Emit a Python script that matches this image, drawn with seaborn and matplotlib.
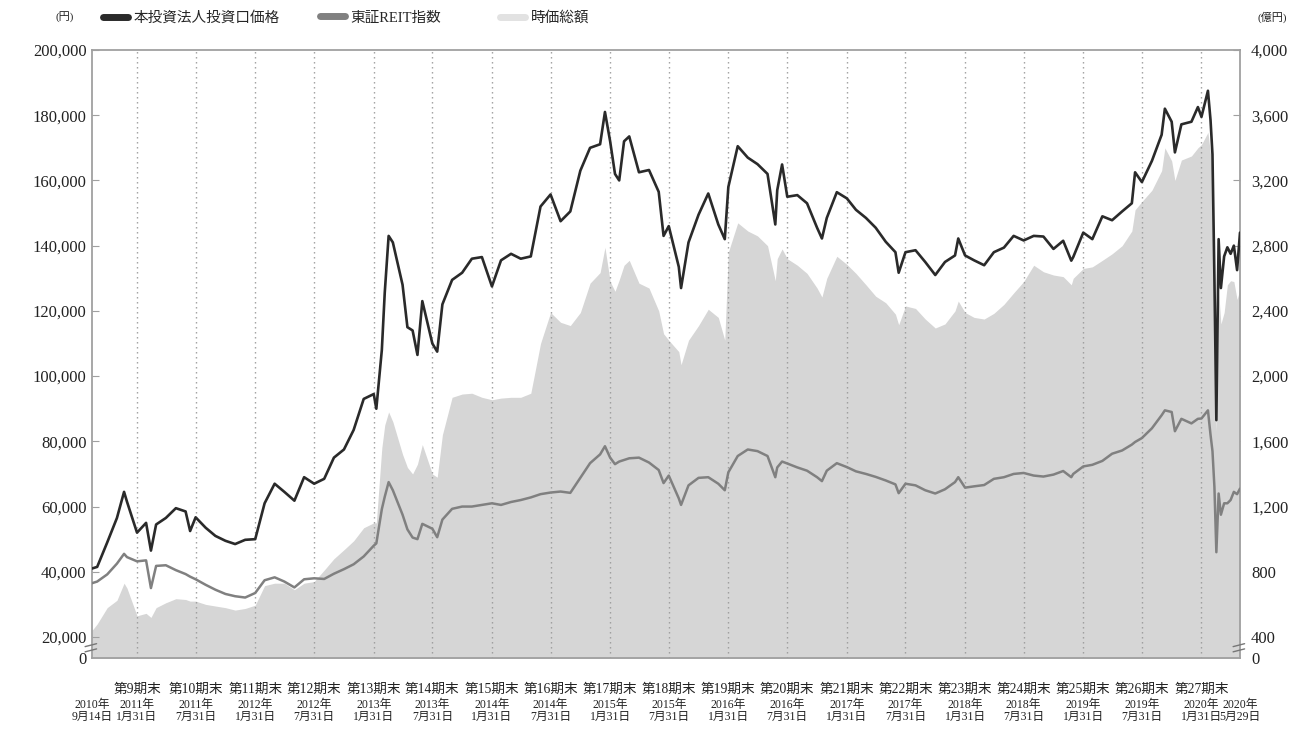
import matplotlib
matplotlib.use("Agg")
import matplotlib.pyplot as plt
import matplotlib.dates as mdates
import matplotlib.transforms as mtransforms
from matplotlib.lines import Line2D
import seaborn as sns
import pandas as pd

# values (price and REIT in yen-axis units, market cap in 億円)
dates = [
    "2010-09-14", "2010-09-30", "2010-10-31", "2010-11-30", "2010-12-22", "2010-12-31",
    "2011-01-31", "2011-02-28", "2011-03-15", "2011-03-31", "2011-04-30", "2011-05-31",
    "2011-06-30", "2011-07-14", "2011-07-31", "2011-08-31", "2011-09-30", "2011-10-31",
    "2011-11-30", "2011-12-31", "2012-01-31", "2012-02-29", "2012-03-31", "2012-04-30",
    "2012-05-31", "2012-06-30", "2012-07-31", "2012-08-31", "2012-09-30", "2012-10-31",
    "2012-11-30", "2012-12-31", "2013-01-31", "2013-02-08", "2013-02-25", "2013-03-06",
    "2013-03-18", "2013-03-31", "2013-04-30", "2013-05-15", "2013-05-31", "2013-06-15",
    "2013-06-30", "2013-07-31", "2013-08-15", "2013-08-31", "2013-09-30", "2013-10-31",
    "2013-11-30", "2013-12-31", "2014-01-31", "2014-02-28", "2014-03-31", "2014-04-30",
    "2014-05-31", "2014-06-30", "2014-07-31", "2014-08-31", "2014-09-30", "2014-10-31",
    "2014-11-30", "2014-12-31", "2015-01-15", "2015-01-31", "2015-02-15", "2015-02-28",
    "2015-03-15", "2015-03-31", "2015-04-30", "2015-05-31", "2015-06-30", "2015-07-15",
    "2015-07-31", "2015-08-31", "2015-09-07", "2015-09-30", "2015-10-31", "2015-11-30",
    "2015-12-31", "2016-01-20", "2016-01-31", "2016-02-29", "2016-03-31", "2016-04-30",
    "2016-05-31", "2016-06-24", "2016-06-30", "2016-07-15", "2016-07-31", "2016-08-31",
    "2016-09-30", "2016-10-31", "2016-11-15", "2016-11-30", "2016-12-31", "2017-01-31",
    "2017-02-28", "2017-03-31", "2017-04-30", "2017-05-31", "2017-06-30", "2017-07-10",
    "2017-07-31", "2017-08-31", "2017-09-30", "2017-10-31", "2017-11-30", "2017-12-31",
    "2018-01-10", "2018-01-31", "2018-02-28", "2018-03-31", "2018-04-30", "2018-05-31",
    "2018-06-30", "2018-07-31", "2018-08-31", "2018-09-30", "2018-10-31", "2018-11-30",
    "2018-12-25", "2018-12-31", "2019-01-31", "2019-02-28", "2019-03-31", "2019-04-30",
    "2019-05-31", "2019-06-30", "2019-07-10", "2019-07-31", "2019-08-31", "2019-09-30",
    "2019-10-10", "2019-10-31", "2019-11-10", "2019-11-30", "2019-12-31", "2020-01-20",
    "2020-01-31", "2020-02-20", "2020-02-28", "2020-03-05", "2020-03-11", "2020-03-17",
    "2020-03-24", "2020-03-31", "2020-04-10", "2020-04-20", "2020-04-30", "2020-05-10",
    "2020-05-20", "2020-05-29",
]

unit_price = [
    41000, 41500, 49000, 56500, 64500, 61500,
    52000, 55000, 46500, 54500, 56500, 59500,
    58500, 52500, 56700, 53500, 51000, 49500,
    48500, 49800, 50000, 61000, 67000, 64500,
    61800, 69000, 67000, 68500, 75000, 77500,
    83500, 93000, 94500, 90000, 108000, 125600,
    143000, 141000, 128000, 115000, 114000, 106500,
    123000, 110000, 107500, 122000, 129500, 131700,
    136000, 136500, 127500, 135500, 137500, 136000,
    136700, 152000, 155700, 147500, 150500, 163000,
    170000, 171100, 181000, 172000, 162000, 160000,
    172000, 173500, 162500, 163200, 156500, 143000,
    146000, 133500, 127000, 141000, 149500, 156000,
    146500, 142000, 158000, 170500, 167000, 165000,
    162000, 146500, 157000, 164900, 155000, 155500,
    153000, 145500, 142200, 148500, 156400, 154500,
    151000, 148500, 145500, 141200, 138000, 131700,
    138000, 138600, 135000, 131000, 135000, 137000,
    142200, 137000, 135500, 134000, 138000, 139400,
    143000, 141600, 143000, 142800, 139000, 141500,
    135400, 136500, 144000, 142000, 149000, 147800,
    150500, 153000, 162500, 159500, 166000, 174000,
    182000, 178000, 168600, 177200, 178000, 182500,
    179500, 187500, 178500, 168000, 130000, 86500,
    142000, 127000, 136700, 139500, 137500, 140000,
    132500, 144000,
]

reit_rebased = [
    36500, 37000, 39200, 42500, 45500, 44500,
    43200, 43500, 35000, 41800, 42000, 40500,
    39300, 38500, 37700, 36000, 34500, 33200,
    32500, 32100, 33500, 37400, 38300, 37000,
    35200, 37700, 38000, 37800, 39400, 40800,
    42300, 44700, 48000, 48700, 59200, 63000,
    67500, 65000, 57500, 53000, 50500, 50000,
    54700, 53200, 50600, 56000, 59300, 60000,
    60000, 60500, 61000, 60500, 61400, 62000,
    62800, 63800, 64300, 64600, 64200, 68800,
    73300, 76000, 78500, 75000, 73000, 73800,
    74300, 74800, 75000, 73500, 71200, 67200,
    69500, 62500, 60500, 66500, 68800, 69000,
    67000, 65000, 70500, 75500, 77500, 77000,
    75500, 69000, 72000, 73800, 73200, 72000,
    71000, 69000, 67800, 71000, 73300, 72100,
    70800, 70000, 69100, 68000, 66800, 64100,
    67000, 66500, 65000, 64000, 65300, 67500,
    69000, 65800, 66200, 66600, 68500, 69000,
    70000, 70300, 69500, 69200, 69800, 70900,
    69000, 70000, 72300, 72800, 74000, 76200,
    77200, 79000, 79800, 81000, 84000, 88000,
    89500, 89000, 83100, 86900, 85500, 86900,
    87000, 89500, 82000, 77000, 66000, 46000,
    64000, 57500, 61000, 61000, 62000, 64500,
    63800, 65500,
]

market_cap = [
    440, 480, 580, 625, 730, 700,
    530, 545, 520, 580, 610, 635,
    630, 620, 620, 600, 590, 580,
    565, 575, 595, 715, 730, 730,
    690, 730, 740, 810, 880, 935,
    990, 1070, 1100, 1100, 1560, 1700,
    1780, 1720, 1520, 1440, 1400, 1460,
    1580, 1400, 1380, 1640, 1870, 1890,
    1895, 1870, 1855, 1865, 1870, 1870,
    1895, 2200, 2390, 2330, 2310, 2390,
    2570, 2635, 2790, 2580, 2520, 2590,
    2680, 2710, 2570, 2540, 2400, 2260,
    2220, 2150, 2070, 2220, 2310, 2410,
    2360, 2220, 2760, 2940, 2890, 2860,
    2800, 2585, 2720, 2780, 2720, 2680,
    2630, 2540, 2485, 2600, 2735, 2685,
    2630, 2560, 2490, 2450, 2380, 2315,
    2430, 2415, 2350, 2295, 2320, 2400,
    2460, 2390, 2360, 2350, 2385, 2440,
    2510, 2580, 2680, 2640, 2620, 2610,
    2560, 2600, 2660, 2670, 2710, 2750,
    2800, 2890, 3020, 3070, 3140, 3260,
    3400, 3320, 3200, 3325, 3350, 3400,
    3420, 3495, 3360, 3200, 2360, 1660,
    2520, 2320, 2390, 2560, 2585, 2580,
    2470, 2535,
]

period_labels = ["第%d期末" % n for n in range(9, 28)]
period_dates = [
    "2011-01-31", "2011-07-31", "2012-01-31", "2012-07-31", "2013-01-31",
    "2013-07-31", "2014-01-31", "2014-07-31", "2015-01-31", "2015-07-31",
    "2016-01-31", "2016-07-31", "2017-01-31", "2017-07-31", "2018-01-31",
    "2018-07-31", "2019-01-31", "2019-07-31", "2020-01-31",
]
date_label_dates = ["2010-09-14"] + period_dates + ["2020-05-29"]
date_labels = [
    "2010年\n9月14日", "2011年\n1月31日", "2011年\n7月31日", "2012年\n1月31日",
    "2012年\n7月31日", "2013年\n1月31日", "2013年\n7月31日", "2014年\n1月31日",
    "2014年\n7月31日", "2015年\n1月31日", "2015年\n7月31日", "2016年\n1月31日",
    "2016年\n7月31日", "2017年\n1月31日", "2017年\n7月31日", "2018年\n1月31日",
    "2018年\n7月31日", "2019年\n1月31日", "2019年\n7月31日", "2020年\n1月31日",
    "2020年\n5月29日",
]

left_ticks = [20000, 40000, 60000, 80000, 100000, 120000, 140000, 160000, 180000, 200000]
right_ticks = [400, 800, 1200, 1600, 2000, 2400, 2800, 3200, 3600, 4000]

PRICE_COLOR = "#2a2a2a"
REIT_COLOR = "#808080"
CAP_COLOR = "#d6d6d6"
FRAME = "#a0a0a0"

# broken axis: the bottom "0" sits just below 20,000
LEFT_BOTTOM = 13560
RIGHT_BOTTOM = LEFT_BOTTOM / 50

sns.set_style("white")
plt.rcParams["font.family"] = ["Liberation Serif", "Noto Sans CJK JP"]

df = pd.DataFrame({
    "date": pd.to_datetime(dates),
    "price": unit_price,
    "reit": reit_rebased,
    "cap": market_cap,
})

fig = plt.figure(figsize=(12.99, 7.29), dpi=100)
ax = fig.add_axes([92 / 1299, 71 / 729, 1148 / 1299, 608 / 729])
ax2 = ax.twinx()

ax2.fill_between(df["date"], df["cap"], 0, color=CAP_COLOR, linewidth=0)
ax.set_zorder(ax2.get_zorder() + 1)
ax.patch.set_visible(False)

for d in period_dates:
    ax.axvline(pd.Timestamp(d), color="#9a9a9a", linestyle=(0, (1, 2.6)), linewidth=1.0, zorder=1)

sns.lineplot(data=df, x="date", y="reit", ax=ax, color=REIT_COLOR, linewidth=1.8, zorder=3)
sns.lineplot(data=df, x="date", y="price", ax=ax, color=PRICE_COLOR, linewidth=1.9, zorder=4)

ax.set_xlim(df["date"].iloc[0], df["date"].iloc[-1])
ax.set_ylim(LEFT_BOTTOM, 200000)
ax2.set_ylim(RIGHT_BOTTOM, 4000)
ax.set_xlabel("")
ax.set_ylabel("")
ax.set_xticks([])

ax.set_yticks([LEFT_BOTTOM] + left_ticks)
ax.set_yticklabels(["0"] + ["{:,}".format(v) for v in left_ticks])
ax2.set_yticks([RIGHT_BOTTOM] + right_ticks)
ax2.set_yticklabels(["0"] + ["{:,}".format(v) for v in right_ticks])
ax.tick_params(axis="y", direction="in", length=5, color=FRAME, labelsize=12, pad=4, colors="#222222")
ax2.tick_params(axis="y", direction="in", length=5, color=FRAME, labelsize=12, pad=8, colors="#222222")
ax.yaxis.get_major_ticks()[0].tick1line.set_visible(False)
ax2.yaxis.get_major_ticks()[0].tick2line.set_visible(False)

for s in ax.spines.values():
    s.set_color(FRAME)
    s.set_linewidth(1.3)
for s in ax2.spines.values():
    s.set_visible(False)

# break marks on both spines
ytrans = mtransforms.blended_transform_factory(ax.transAxes, ax.transData)
for xa in (0, 1):
    for yb in (17500, 15900):
        ax.plot([xa - 0.006, xa + 0.004], [yb - 450, yb + 450], transform=ytrans,
                color="#777777", linewidth=1.0, clip_on=False, zorder=6)

# two-row date axis labels
xtrans = mtransforms.blended_transform_factory(ax.transData, ax.transAxes)
for d, lab in zip(period_dates, period_labels):
    ax.text(mdates.date2num(pd.Timestamp(d)), -0.052, lab, transform=xtrans,
            ha="center", va="center", fontsize=9.8, color="#222222")
for d, lab in zip(date_label_dates, date_labels):
    ax.text(mdates.date2num(pd.Timestamp(d)), -0.068, lab, transform=xtrans,
            ha="center", va="top", fontsize=8.5, linespacing=1.0, color="#222222")

fig.text(65 / 1299, 1 - 17 / 729, "(円)", fontsize=8, ha="center", va="center", color="#222222")
fig.text(1272 / 1299, 1 - 17 / 729, "(億円)", fontsize=8, ha="center", va="center", color="#222222")

legend_items = [
    (PRICE_COLOR, "本投資法人投資口価格", 103),
    (REIT_COLOR, "東証REIT指数", 320),
    ("#e2e2e2", "時価総額", 500),
]
for color, label, xpix in legend_items:
    fig.legend([Line2D([0], [0], color=color, linewidth=5)], [label],
               loc="center left", bbox_to_anchor=(xpix / 1299, 1 - 18 / 729),
               frameon=False, borderpad=0, borderaxespad=0, handlelength=1.7,
               handletextpad=0.4, fontsize=10.5)

fig.savefig("out.png", dpi=100)
